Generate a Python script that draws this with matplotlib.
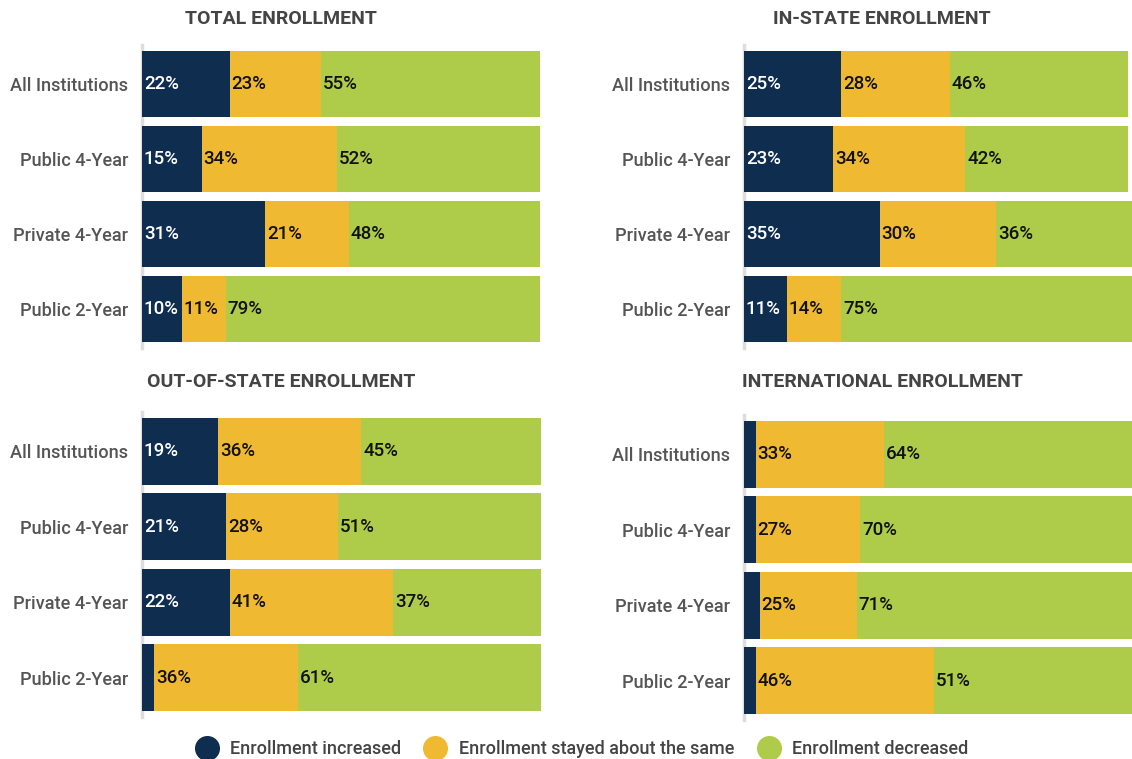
import matplotlib
matplotlib.use("Agg")
import matplotlib.pyplot as plt
from matplotlib.lines import Line2D

plt.rcParams["font.family"] = ["Roboto", "DejaVu Sans"]

categories = ["All Institutions", "Public 4-Year", "Private 4-Year", "Public 2-Year"]
series_names = ["Enrollment increased", "Enrollment stayed about the same", "Enrollment decreased"]
colors = ["#0e2d4f", "#f0b932", "#aecb4a"]

panel_titles = ["TOTAL ENROLLMENT", "IN-STATE ENROLLMENT",
                "OUT-OF-STATE ENROLLMENT", "INTERNATIONAL ENROLLMENT"]

# (increased, same, decreased) per category
total_inc = [22, 15, 31, 10]
total_same = [23, 34, 21, 11]
total_dec = [55, 52, 48, 79]

instate_inc = [25, 23, 35, 11]
instate_same = [28, 34, 30, 14]
instate_dec = [46, 42, 36, 75]

outstate_inc = [19, 21, 22, 3]
outstate_same = [36, 28, 41, 36]
outstate_dec = [45, 51, 37, 61]

intl_inc = [3, 3, 4, 3]
intl_same = [33, 27, 25, 46]
intl_dec = [64, 70, 71, 51]

panels = [
    (total_inc, total_same, total_dec),
    (instate_inc, instate_same, instate_dec),
    (outstate_inc, outstate_same, outstate_dec),
    (intl_inc, intl_same, intl_dec),
]

W, H = 1132, 759
fig = plt.figure(figsize=(W / 100, H / 100), dpi=100)

# axes boxes in pixels: (left, top, right, bottom)
boxes = [
    (142, 45, 540, 348),
    (744, 45, 1132, 348),
    (142, 412, 541, 717),
    (744, 415, 1132, 720),
]
title_pos = [(281, 19), (882, 19), (281, 382), (882, 382)]

for (vals, box, title, tpos) in zip(panels, boxes, panel_titles, title_pos):
    l, t, r, b = box
    ax = fig.add_axes([l / W, 1 - b / H, (r - l) / W, (b - t) / H])
    y = list(range(len(categories)))
    left = [0] * len(categories)
    for k, (v, c) in enumerate(zip(vals, colors)):
        ax.barh(y, v, left=left, height=0.89, color=c, linewidth=0, zorder=2)
        for yi, (lv, vv) in enumerate(zip(left, v)):
            if vv >= 5 and lv < 100:
                ax.text(lv + 0.5, yi, f"{vv}%", va="center", ha="left",
                        fontsize=13.5, fontweight="medium", zorder=3,
                        color="white" if k == 0 else "#111111")
        left = [a + bb for a, bb in zip(left, v)]
    ax.set_xlim(0, 100)
    ax.set_ylim(3.52, -0.52)
    ax.set_yticks(y)
    ax.set_yticklabels(categories, fontsize=13.1, fontweight="medium", color="#555555")
    ax.tick_params(axis="y", length=0, pad=10)
    ax.set_xticks([])
    for s in ["top", "right", "bottom"]:
        ax.spines[s].set_visible(False)
    ax.spines["left"].set_color("#dddddd")
    ax.spines["left"].set_linewidth(2.5)
    ax.spines["left"].set_zorder(1)
    fig.text(tpos[0] / W, 1 - tpos[1] / H, title, ha="center", va="center",
             fontsize=14, fontweight="bold", color="#444444")

handles = [Line2D([], [], marker="o", linestyle="", markersize=17,
                  markerfacecolor=c, markeredgecolor=c) for c in colors]
fig.legend(handles, series_names, loc="center", bbox_to_anchor=(0.511, 1 - 749 / H),
           ncol=3, frameon=False, prop={"size": 13, "weight": "medium"},
           handletextpad=0.3, columnspacing=0.9, labelcolor="#444444")

fig.savefig("out.png", dpi=100)
